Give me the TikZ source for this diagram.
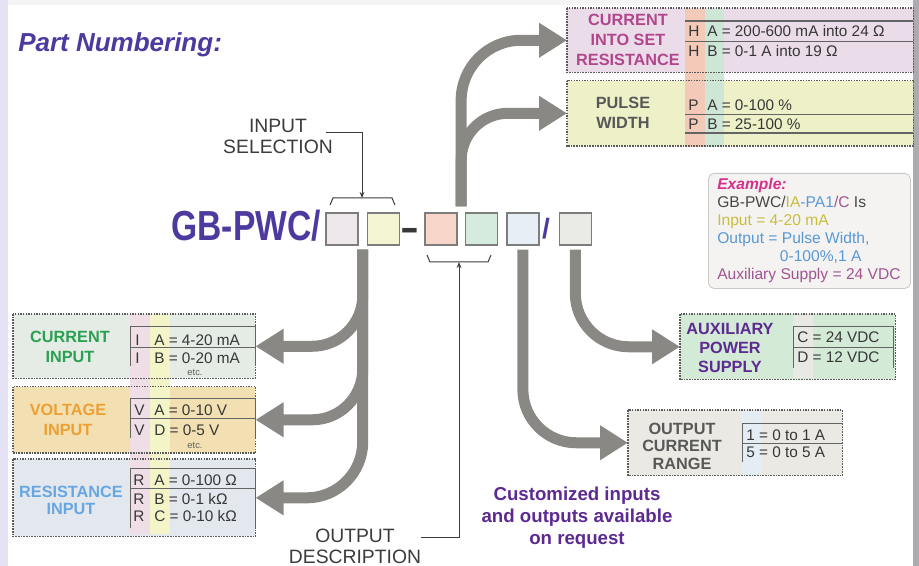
\documentclass[tikz,border=0pt]{standalone}
\usepackage{fontspec}
\setmainfont{Liberation Sans}
\usepackage{graphicx}
\usetikzlibrary{positioning, calc, arrows.meta}

\definecolor{titlepurple}{RGB}{78,58,158}
\definecolor{deeppurple}{RGB}{92,42,145}
\definecolor{lblmagenta}{RGB}{178,70,140}
\definecolor{lblgreen}{RGB}{42,160,82}
\definecolor{lblorange}{RGB}{236,160,52}
\definecolor{lblblue}{RGB}{104,166,226}
\definecolor{lblgray}{RGB}{88,88,88}
\definecolor{rowgray}{RGB}{55,55,55}
\definecolor{notegray}{RGB}{60,60,60}
\definecolor{arrowgray}{RGB}{138,136,132}
\definecolor{boxgray}{RGB}{125,125,125}
\definecolor{dotgray}{RGB}{90,90,90}
\definecolor{linegray}{RGB}{100,100,100}
\definecolor{fillcurset}{RGB}{234,220,232}
\definecolor{fillpulse}{RGB}{238,240,200}
\definecolor{fillcurin}{RGB}{229,236,230}
\definecolor{fillvoltin}{RGB}{243,224,178}
\definecolor{fillresin}{RGB}{226,232,238}
\definecolor{fillaux}{RGB}{210,234,214}
\definecolor{fillrange}{RGB}{234,233,228}
\definecolor{stripeorange}{RGB}{243,201,184}
\definecolor{stripegreen}{RGB}{206,230,214}
\definecolor{stripepink}{RGB}{240,222,230}
\definecolor{stripeyellow}{RGB}{243,244,200}
\definecolor{stripegray}{RGB}{232,232,228}
\definecolor{stripeblue}{RGB}{228,236,244}
\definecolor{codea}{RGB}{238,232,236}
\definecolor{codeb}{RGB}{243,245,210}
\definecolor{codec}{RGB}{247,213,200}
\definecolor{coded}{RGB}{213,235,221}
\definecolor{codee}{RGB}{232,238,245}
\definecolor{codef}{RGB}{234,234,230}
\definecolor{exfill}{RGB}{244,243,241}
\definecolor{exborder}{RGB}{200,200,200}
\definecolor{exmagenta}{RGB}{213,48,138}
\definecolor{exdark}{RGB}{70,70,70}
\definecolor{exyellow}{RGB}{200,190,60}
\definecolor{exblue}{RGB}{90,152,212}
\definecolor{exmauve}{RGB}{160,85,145}
\definecolor{edgelav}{RGB}{230,226,245}
\definecolor{edgetop}{RGB}{245,245,245}
\definecolor{edgegray}{RGB}{172,172,176}

\newcommand{\fsz}[2]{\fontsize{#1}{#2}\selectfont}

\begin{document}
\begin{tikzpicture}[x=0.75pt, y=-0.75pt, inner sep=0pt,
  codebox/.style={draw=boxgray, line width=1.1pt, minimum width=24pt, minimum height=24pt},
  group/.style={anchor=north west},
  dotborder/.style={draw=dotgray, line width=0.9pt, dash pattern=on 1.2pt off 0.8pt},
  grplabel/.style={font=\fsz{12.2}{15}\bfseries, align=center},
  row/.style={font=\fsz{11.5}{14}, text=rowgray, anchor=base west},
  etc/.style={font=\fsz{7}{8}, text=rowgray!80, anchor=base},
  note/.style={font=\fsz{14.5}{15.75}, text=notegray, align=center},
  tabline/.style={draw=linegray, line width=0.6pt},
  bracket/.style={draw=notegray, line width=0.75pt},
  thinarrow/.style={draw=notegray, line width=0.75pt, -{Stealth[length=4.5pt,width=3.5pt]}},
  bigarrow/.style={color=arrowgray, line width=8.25pt, -{Triangle[length=21pt,width=24.75pt]}},
  elbow/.style={to path={|- (\tikztotarget)}}]

  % page
  \useasboundingbox (0,0) rectangle (919,566);
  \fill[white]    (0,0)   rectangle (919,566);
  \fill[edgelav]  (0,0)   rectangle (8,566);
  \fill[edgetop]  (8,0)   rectangle (913,5);
  \fill[edgegray] (913,0) rectangle (919,566);

  \node[anchor=base west, font=\fsz{19.5}{20}\bfseries\itshape, text=titlepurple] (title) at (18,52) {Part Numbering:};

  % part number
  \node[anchor=base east, font=\fsz{31.5}{32}\bfseries, text=titlepurple] (pn) at (321,241) {\scalebox{0.8}[1]{GB-PWC/}};
  \node[codebox, fill=codea]   (b1)                          at (342,229) {};
  \node[codebox, fill=codeb]   (b2)     [right=6pt of b1]    {};
  \node[codebox, fill=codec]   (b3)     [right=18pt of b2]   {};
  \node[codebox, fill=coded]   (b4)     [right=5.25pt of b3] {};
  \node[codebox, fill=codee]   (b5)     [right=6pt of b4]    {};
  \node[codebox, fill=codef]   (b6)     [right=14.25pt of b5] {};
  \node[anchor=base, font=\fsz{31.5}{32}\bfseries, text=exdark!80!black] (dash) at (410,241) {\scalebox{1.35}[0.9]{-}};
  \node[anchor=base, font=\fsz{21}{22}\bfseries, text=titlepurple] (slash) at (546,239) {/};

  % groups
  \node[group, fill=fillcurset, minimum width=259.5pt, minimum height=48pt]    (curset) at (567,8) {};
  \node[group, fill=fillpulse,  minimum width=259.5pt, minimum height=48.75pt] (pulse)  [below=6pt of curset.south west, anchor=north west] {};
  \node[group, fill=fillcurin,  minimum width=181.5pt, minimum height=48pt]    (curin)  at (13,314) {};
  \node[group, fill=fillvoltin, minimum width=181.5pt, minimum height=49.5pt]  (voltin) [below=6pt of curin.south west, anchor=north west] {};
  \node[group, fill=fillresin,  minimum width=181.5pt, minimum height=57.75pt] (resin)  [below=4.5pt of voltin.south west, anchor=north west] {};
  \node[group, fill=fillaux,    minimum width=161.25pt, minimum height=48.75pt] (aux)   at (680,314) {};
  \node[group, fill=fillrange,  minimum width=160.5pt, minimum height=48.75pt] (range)  at (628,410) {};

  \fill[stripeorange] (685,9)   rectangle (705,147);
  \fill[stripegreen]  (705,9)   rectangle (724,147);
  \fill[stripepink]   (130,315) rectangle (150,534);
  \fill[stripeyellow] (150,315) rectangle (170,534);
  \fill[stripegray]   (793,315) rectangle (813,378);
  \fill[stripeblue]   (742,411) rectangle (762,474);

  \foreach \g in {curset, pulse, curin, voltin, resin, aux, range}
    \draw[dotborder] (\g.north west) rectangle (\g.south east);

  % table rules
  \draw[tabline, line width=1pt] (685,21) -- (913,21);
  \draw[tabline] (685,41) -- (913,41);
  \draw[tabline] (685,114) -- (913,114);
  \draw[tabline, line width=1pt] (685,133) -- (913,133);
  \draw[tabline] (130,366) -- (130,326) -- (255,326) -- (255,366) (130,347) -- (255,347);
  \draw[tabline] (130,438) -- (130,398) -- (255,398) -- (255,438) (130,418) -- (255,418);
  \draw[tabline] (130,528) -- (130,468) -- (255,468) -- (255,528) (130,488) -- (255,488);
  \draw[tabline] (793,368) -- (793,326) -- (893,326) -- (893,368) (793,347) -- (893,347);
  \draw[tabline] (742,462) -- (742,423) -- (842,423) (742,443) -- (842,443);

  % labels
  \node[grplabel, text=lblmagenta] (cursetlbl) at (628,40)  {CURRENT\\INTO SET\\RESISTANCE};
  \node[grplabel, text=lblgray]    (pulselbl)  at (623,113) {PULSE\\WIDTH};
  \node[grplabel, text=lblgreen]   (curinlbl)  at (70,347)  {CURRENT\\INPUT};
  \node[grplabel, text=lblorange]  (voltinlbl) at (68,420)  {VOLTAGE\\INPUT};
  \node[grplabel, text=lblblue, font=\fsz{12.2}{12.75}\bfseries] (resinlbl) at (71,500) {RESISTANCE\\INPUT};
  \node[grplabel, text=deeppurple, font=\fsz{12.2}{13.9}\bfseries] (auxlbl) at (730,348) {AUXILIARY\\POWER\\SUPPLY};
  \node[grplabel, text=lblgray, font=\fsz{12.2}{13.1}\bfseries] (rangelbl) at (682,446) {OUTPUT\\CURRENT\\RANGE};

  % rows
  \node[row] (hA) at (688,37)  {\makebox[14.25pt][l]{H}A = 200-600 mA into 24 Ω};
  \node[row] (hB) at (688,57)  {\makebox[14.25pt][l]{H}B = 0-1 A into 19 Ω};
  \node[row] (pA) at (688,111) {\makebox[14.25pt][l]{P}A = 0-100 \%};
  \node[row] (pB) at (688,130) {\makebox[14.25pt][l]{P}B = 25-100 \%};
  \node[row] (iA) at (135,345) {\makebox[14.25pt][l]{I}A = 4-20 mA};
  \node[row] (iB) at (135,363) {\makebox[14.25pt][l]{I}B = 0-20 mA};
  \node[etc] (ietc) at (195,375) {etc.};
  \node[row] (vA) at (134,415) {\makebox[15pt][l]{V}A = 0-10 V};
  \node[row] (vD) at (134,435) {\makebox[15pt][l]{V}D = 0-5 V};
  \node[etc] (vetc) at (195,448) {etc.};
  \node[row] (rA) at (133,485) {\makebox[15.75pt][l]{R}A = 0-100 Ω};
  \node[row] (rB) at (133,504) {\makebox[15.75pt][l]{R}B = 0-1 kΩ};
  \node[row] (rC) at (133,521) {\makebox[15.75pt][l]{R}C = 0-10 kΩ};
  \node[row] (auxC) at (797,342) {C = 24 VDC};
  \node[row] (auxD) at (797,362) {D = 12 VDC};
  \node[row] (r1) at (746,440) {1 = 0 to 1 A};
  \node[row] (r5) at (746,457) {5 = 0 to 5 A};

  % example
  \node[group, draw=exborder, fill=exfill, line width=0.6pt, rounded corners=4pt,
        minimum width=151.5pt, minimum height=86.25pt] (example) at (708,173) {};
  \node[anchor=north west, align=left, font=\fsz{11.7}{13.5}] (extext) at (717,178)
    {{\color{exmagenta}\bfseries\itshape Example:}\\
     {\color{exdark}GB-PWC/}{\color{exyellow}IA}{\color{exblue}-PA1}{\color{exmauve}/C}\ {\color{exdark}Is}\\
     {\color{exyellow}Input = 4-20 mA}\\
     {\color{exblue}Output = Pulse Width,}\\
     {\color{exblue}\hspace*{47pt}0-100\%,1 A}\\
     {\color{exmauve}Auxiliary Supply = 24 VDC}};

  \node[font=\fsz{14}{16.5}\bfseries, text=deeppurple, align=center] (custom) at (577,518)
    {Customized inputs\\and outputs available\\on request};

  % selection notes
  \node[note] (insel)   at (278,136) {INPUT\\SELECTION};
  \node[note] (outdesc) at (355,546) {OUTPUT\\DESCRIPTION};
  \draw[bracket] (330,205) -- (333,198) -- (392,198) -- (395,205);
  \draw[bracket] (427,255) -- (430,262) -- (488,262) -- (491,255);
  \coordinate (inbrace)  at (362,198);
  \coordinate (outbrace) at (459,262);
  \draw[thinarrow] ([xshift=-5.25pt,yshift=2.25pt]insel.east) -| (inbrace);
  \draw[thinarrow] ([yshift=6.75pt]outdesc.east) -| (outbrace);

  % arrows
  \coordinate (inroot)    at ($(b1.south east)!.5!(b2.south west)+(0,4)$);
  \coordinate (outroot)   at ($(b3.north east)!.5!(b4.north west)+(0,-6)$);
  \coordinate (rangeroot) at ($(b5.south)+(0,4)$);
  \coordinate (auxroot)   at ($(b6.south)+(0,4)$);

  \path[bigarrow]
        (inroot)    edge[elbow, rounded corners=38pt]   (curin.east)
                    edge[elbow, rounded corners=38pt]   (voltin.east)
                    edge[elbow, rounded corners=42pt]   (resin.east)
        (outroot)   edge[elbow, rounded corners=45pt]   (curset.west)
                    edge[elbow, rounded corners=35pt]   (pulse.west)
        (rangeroot) edge[elbow, rounded corners=40pt]   (range.west)
        (auxroot)   edge[elbow, rounded corners=40pt]   (aux.west)
        ;

\end{tikzpicture}
\end{document}
